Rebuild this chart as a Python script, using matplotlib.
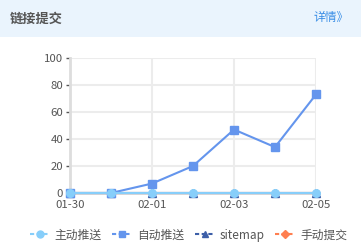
import matplotlib
matplotlib.use("Agg")
import matplotlib.pyplot as plt
from matplotlib.patches import Rectangle
from matplotlib.lines import Line2D

plt.rcParams['font.family'] = ['Noto Sans CJK SC', 'DejaVu Sans']

dates = ["01-30", "01-31", "02-01", "02-02", "02-03", "02-04", "02-05"]
series_names = ["主动推送", "自动推送", "sitemap", "手动提交"]
zhudong = [0, 0, 0, 0, 0, 0, 0]
zidong = [0, 0, 7, 20, 47, 34, 73]
sitemap = [0, 0, 0, 0, 0, 0, 0]
shoudong = [0, 0, 0, 0, 0, 0, 0]
yticks = [0, 20, 40, 60, 80, 100]
xtick_labels = ["01-30", "02-01", "02-03", "02-05"]

colors = ["#87cefa", "#6495ed", "#3d5fa8", "#ff7f50"]
markers = ["o", "s", "^", "D"]
values = [zhudong, zidong, sitemap, shoudong]
zorders = [6, 5, 4, 3]

fig = plt.figure(figsize=(3.61, 2.47), dpi=100)
fig.patch.set_facecolor("white")
fig.patches.append(Rectangle((0, 1 - 37 / 247), 1, 37 / 247, transform=fig.transFigure,
                             facecolor="#eaf4fd", edgecolor="none", zorder=0))
fig.text(10 / 361, 1 - 19 / 247, "链接提交", fontsize=9.5, color="#555555",
         fontweight="bold", va="center", ha="left")
fig.text(349 / 361, 1 - 17 / 247, "详情》", fontsize=8.5, color="#3a8ee6",
         va="center", ha="right")

ax = fig.add_axes([70 / 361, 1 - 193 / 247, (316 - 70) / 361, (193 - 58) / 247])
x = list(range(len(dates)))
for name, vals, c, m, z in zip(series_names, values, colors, markers, zorders):
    ms = 5.5 if m != "D" else 4.5
    ax.plot(x, vals, color=c, marker=m, markersize=ms, linewidth=1.5, label=name,
            zorder=z, clip_on=False)

ax.set_xlim(0, len(dates) - 1)
ax.set_ylim(0, 100)
ax.set_yticks(yticks)
ax.set_xticks([dates.index(d) for d in xtick_labels])
ax.set_xticklabels(xtick_labels)
ax.grid(True, color="#ececec", linewidth=1.5, zorder=0)
ax.set_axisbelow(True)
for s in ["top", "right"]:
    ax.spines[s].set_visible(False)
for s in ["left", "bottom"]:
    ax.spines[s].set_color("#dddddd")
    ax.spines[s].set_linewidth(2)
ax.tick_params(axis="both", colors="#555555", labelsize=8.2, length=3, width=1, pad=2,
               labelcolor="#555555")

handles = [Line2D([0], [0], color=c, marker=m, markersize=5 if m != "D" else 4,
                  linewidth=1.5, linestyle=(0, (2, 1.2)))
           for c, m in zip(colors, markers)]
fig.legend(handles, series_names, loc="center", bbox_to_anchor=(188.5 / 361, 1 - 235 / 247),
           ncol=4, frameon=False, fontsize=8.5, handlelength=1.7, handletextpad=0.4,
           columnspacing=0.9, labelcolor="#555555")

fig.savefig("out.png", dpi=100)
